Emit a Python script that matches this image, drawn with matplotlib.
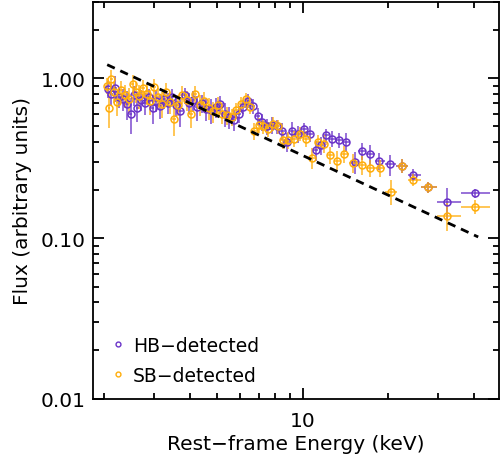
import numpy as np
import matplotlib
matplotlib.use("Agg")
import matplotlib.pyplot as plt
from matplotlib.ticker import FixedLocator, FixedFormatter, NullFormatter, LogLocator

# rest-frame energies (keV) and fluxes, HB-detected stack
hb_energy = [2.06, 2.12, 2.19, 2.26, 2.33, 2.40, 2.48, 2.55, 2.62, 2.70,
             2.78, 2.87, 2.96, 3.05, 3.15, 3.25, 3.36, 3.47, 3.59, 3.71,
             3.84, 3.97, 4.11, 4.26, 4.42, 4.58, 4.75, 4.93, 5.12, 5.32,
             5.52, 5.73, 5.95, 6.18, 6.42, 6.67, 6.93, 7.20, 7.49, 7.79,
             8.11, 8.45, 8.80, 9.18, 9.6, 10.1, 10.6, 11.1, 11.6, 12.1,
             12.7, 13.4, 14.2, 15.2, 16.2, 17.3, 18.6, 20.3, 22.3, 24.5,
             27.5, 32.2, 40.5]
hb_flux = [0.86, 0.80, 0.87, 0.76, 0.74, 0.69, 0.60, 0.78, 0.65, 0.73,
           0.70, 0.76, 0.65, 0.72, 0.67, 0.74, 0.70, 0.76, 0.68, 0.62,
           0.78, 0.70, 0.73, 0.66, 0.70, 0.64, 0.63, 0.66, 0.69, 0.60,
           0.57, 0.55, 0.60, 0.66, 0.72, 0.67, 0.58, 0.53, 0.50, 0.51,
           0.50, 0.47, 0.40, 0.47, 0.45, 0.48, 0.45, 0.355, 0.38, 0.44,
           0.42, 0.41, 0.40, 0.30, 0.35, 0.335, 0.305, 0.29, 0.283, 0.25,
           0.209, 0.168, 0.191]
hb_err = [0.12, 0.15, 0.18, 0.14, 0.16, 0.20, 0.25, 0.14, 0.18, 0.15,
          0.16, 0.12, 0.20, 0.15, 0.17, 0.13, 0.15, 0.12, 0.16, 0.20,
          0.12, 0.15, 0.14, 0.18, 0.13, 0.16, 0.18, 0.14, 0.13, 0.17,
          0.16, 0.15, 0.12, 0.10, 0.10, 0.11, 0.12, 0.12, 0.11, 0.12,
          0.10, 0.12, 0.14, 0.13, 0.12, 0.10, 0.11, 0.14, 0.13, 0.10,
          0.12, 0.11, 0.13, 0.16, 0.12, 0.14, 0.12, 0.15, 0.10, 0.09,
          0.08, 0.22, 0.07]

# SB-detected stack
sb_energy = [2.04, 2.08, 2.12, 2.17, 2.22, 2.29, 2.36, 2.44, 2.52, 2.59,
             2.66, 2.74, 2.82, 2.91, 3.00, 3.10, 3.20, 3.30, 3.41, 3.53,
             3.65, 3.77, 3.90, 4.04, 4.18, 4.34, 4.50, 4.66, 4.84, 5.02,
             5.21, 5.41, 5.62, 5.84, 6.06, 6.29, 6.50, 6.75, 7.00, 7.27,
             7.55, 7.85, 8.17, 8.52, 8.9, 9.3, 9.8, 10.3, 10.8, 11.3,
             11.9, 12.5, 13.2, 14.0, 15.0, 16.1, 17.3, 18.7, 20.4, 22.4,
             24.5, 27.5, 32.2, 40.5]
sb_flux = [0.90, 0.65, 0.99, 0.82, 0.71, 0.84, 0.78, 0.74, 0.92, 0.82,
           0.77, 0.87, 0.80, 0.72, 0.88, 0.76, 0.69, 0.82, 0.71, 0.56,
           0.68, 0.79, 0.73, 0.60, 0.80, 0.68, 0.72, 0.65, 0.62, 0.68,
           0.60, 0.585, 0.57, 0.63, 0.69, 0.745, 0.66, 0.47, 0.51, 0.50,
           0.48, 0.52, 0.50, 0.41, 0.41, 0.42, 0.45, 0.42, 0.317, 0.40,
           0.39, 0.33, 0.306, 0.337, 0.296, 0.288, 0.275, 0.275, 0.196, 0.283,
           0.233, 0.209, 0.138, 0.157]
sb_err = [0.12, 0.25, 0.14, 0.15, 0.18, 0.14, 0.16, 0.18, 0.13, 0.15,
          0.17, 0.12, 0.15, 0.18, 0.13, 0.15, 0.18, 0.14, 0.16, 0.22,
          0.15, 0.13, 0.14, 0.18, 0.12, 0.15, 0.14, 0.16, 0.15, 0.13,
          0.14, 0.13, 0.12, 0.11, 0.10, 0.09, 0.10, 0.12, 0.11, 0.10,
          0.11, 0.10, 0.10, 0.12, 0.12, 0.11, 0.10, 0.11, 0.15, 0.10,
          0.13, 0.12, 0.14, 0.12, 0.13, 0.14, 0.12, 0.12, 0.18, 0.10,
          0.09, 0.08, 0.20, 0.10]

# reference power law (dashed)
pl_norm = 1.214
pl_e0 = 2.05
pl_index = -0.824
pl_range = [2.05, 41.4]

HB_COLOR = "#6a33c8"
SB_COLOR = "#ffad0a"


def bin_halfwidths(e):
    # contiguous bins: edges halfway (in log) between neighbouring energies
    le = np.log10(np.asarray(e, dtype=float))
    mids = 0.5 * (le[1:] + le[:-1])
    lo = np.concatenate([[2 * le[0] - mids[0]], mids])
    hi = np.concatenate([mids, [2 * le[-1] - mids[-1]]])
    e = 10 ** le
    return e - 10 ** lo, 10 ** hi - e


def draw_series(ax, e, f, err, color, label):
    e = np.asarray(e)
    f = np.asarray(f)
    yerr = f * np.asarray(err)
    xl, xh = bin_halfwidths(e)
    ax.errorbar(e, f, xerr=[xl, xh], yerr=yerr, fmt="none", ecolor=color,
                elinewidth=1.3, alpha=0.75, capsize=0, zorder=2)
    ax.plot(e, f, "o", mfc="none", mec=color, ms=5, mew=1.1, zorder=3)
    ax.plot([], [], "o", mfc="none", mec=color, ms=3.5, mew=1.0, label=label)


plt.rcParams["font.family"] = "DejaVu Sans"
fig = plt.figure(figsize=(5.0, 4.64), dpi=100)
ax = fig.add_axes([0.185, 0.139, 0.813, 0.855])

draw_series(ax, hb_energy, hb_flux, hb_err, HB_COLOR, "HB\u2212detected")
draw_series(ax, sb_energy, sb_flux, sb_err, SB_COLOR, "SB\u2212detected")

pl_e = np.array(pl_range)
ax.plot(pl_e, pl_norm * (pl_e / pl_e0) ** pl_index, color="black", lw=2,
        dashes=(3, 2.2), zorder=4)

ax.set_xscale("log")
ax.set_yscale("log")
ax.set_xlim(1.82, 49)
ax.set_ylim(0.01, 3.0)

ax.xaxis.set_major_locator(FixedLocator([10]))
ax.xaxis.set_major_formatter(FixedFormatter(["10"]))
ax.xaxis.set_minor_locator(LogLocator(base=10, subs=np.arange(2, 10)))
ax.xaxis.set_minor_formatter(NullFormatter())
ax.yaxis.set_major_locator(FixedLocator([0.01, 0.1, 1.0]))
ax.yaxis.set_major_formatter(FixedFormatter(["0.01", "0.10", "1.00"]))
ax.yaxis.set_minor_locator(LogLocator(base=10, subs=np.arange(2, 10)))
ax.yaxis.set_minor_formatter(NullFormatter())

ax.tick_params(which="both", direction="in", top=True, right=True,
               labelsize=14.5, width=1.3, color="black")
ax.tick_params(which="major", length=8, pad=5)
ax.tick_params(axis="x", which="major", pad=9)
ax.tick_params(which="minor", length=4)
for s in ax.spines.values():
    s.set_linewidth(1.3)

ax.set_xlabel("Rest\u2212frame Energy (keV)", fontsize=14.5, labelpad=3)
ax.set_ylabel("Flux (arbitrary units)", fontsize=14.5, labelpad=6)

ax.legend(loc="lower left", frameon=False, fontsize=13.5, handlelength=0.6,
          handletextpad=0.5, labelspacing=0.6, borderaxespad=0.0,
          bbox_to_anchor=(0.03, 0.015))

fig.savefig("out.png", dpi=100)
